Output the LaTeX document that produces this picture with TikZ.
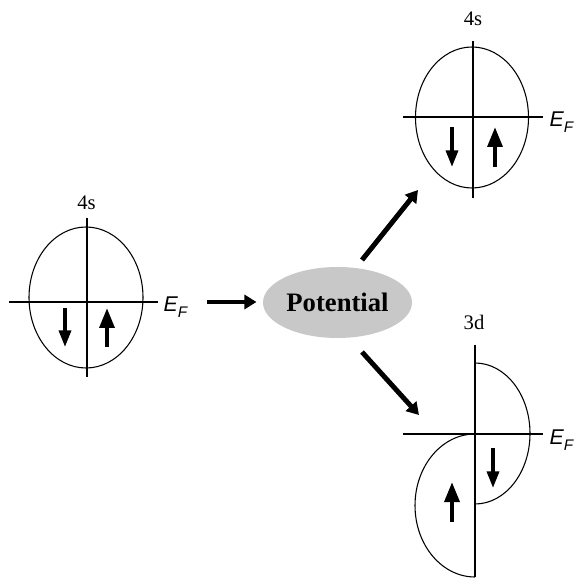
\documentclass[tikz,border=0pt]{standalone}
\usepackage{fontspec}
\setmainfont{Liberation Serif}
\newfontfamily\efsans{Liberation Sans}
\usetikzlibrary{arrows.meta,shapes.geometric}

\newcommand{\fermi}{{\efsans\itshape\fontsize{16}{18}\selectfont E\raisebox{-4.5pt}{\fontsize{11.5}{13}\selectfont F}}}

\tikzset{every picture/.style={line width=0.8pt}}
\tikzset{
  orblbl/.style={inner sep=0.75pt, font=\fontsize{15.5}{17}\selectfont},
  eflbl/.style={anchor=base west, inner sep=0pt},
  spinup/.style={line width=3.2pt, -{Triangle[length=15pt,width=11pt]}},
  spindn/.style={line width=2.6pt, -{Triangle[length=12.5pt,width=9pt]}},
  bigarrow/.style={line width=3.7pt, -{Triangle[length=9pt,width=10.5pt]}},
}

\begin{document}
\begin{tikzpicture}[x=0.75pt,y=0.75pt,yscale=-1,xscale=1]
\useasboundingbox [fill=white] (0,0) rectangle (581,580);

%Left 4s band
\draw (86,297.5) ellipse [x radius=57, y radius=70.5];
\draw (87,218) -- (87,377);
\draw (9,302) -- (158,302);
\draw [spindn] (65,308) -- (65,347);
\draw [spinup] (107,347) -- (107,308);
\draw (86.5,202.5) node [orblbl] (lblL) {4s};
\draw (163,312) node [eflbl] (efL) {\fermi};

%Potential
\node [ellipse, fill={rgb,255:red,200;green,200;blue,200}, minimum width=111.75pt, minimum height=53.25pt, inner sep=0pt] (pot) at (337.5,302.5) {\fontsize{20}{22}\selectfont\bfseries Potential};

%Arrows
\coordinate (inL) at (207,302);
\coordinate (upA) at (362,260);
\coordinate (upB) at (418,190);
\coordinate (dnA) at (362,352);
\coordinate (dnB) at (419,415);
\draw [bigarrow, shorten >=4.5pt] (inL) -- (inL -| pot.west);
\draw [bigarrow] (upA) -- (upB);
\draw [bigarrow] (dnA) -- (dnB);

%Upper right 4s band
\draw (472,117.5) ellipse [x radius=56.5, y radius=70.5];
\draw (473,41) -- (473,198);
\draw (403,117) -- (543,117);
\draw [spindn] (452,127) -- (452,167);
\draw [spinup] (495,167) -- (495,127);
\draw (473,19) node [orblbl] (lblTR) {4s};
\draw (549,127) node [eflbl] (efTR) {\fermi};

%Lower right 3d band
\draw (475,345) -- (475,577);
\draw (403,434) -- (543,434);
\draw (475,363) arc [start angle=-90, end angle=90, x radius=55, y radius=70.5];
\draw (475,434) arc [start angle=-90, end angle=-270, x radius=60, y radius=71.5];
\draw [spindn] (493,448) -- (493,488);
\draw [spinup] (452,522) -- (452,482);
\draw (474,322) node [orblbl] (lblBR) {3d};
\draw (549,444) node [eflbl] (efBR) {\fermi};

\end{tikzpicture}
\end{document}
